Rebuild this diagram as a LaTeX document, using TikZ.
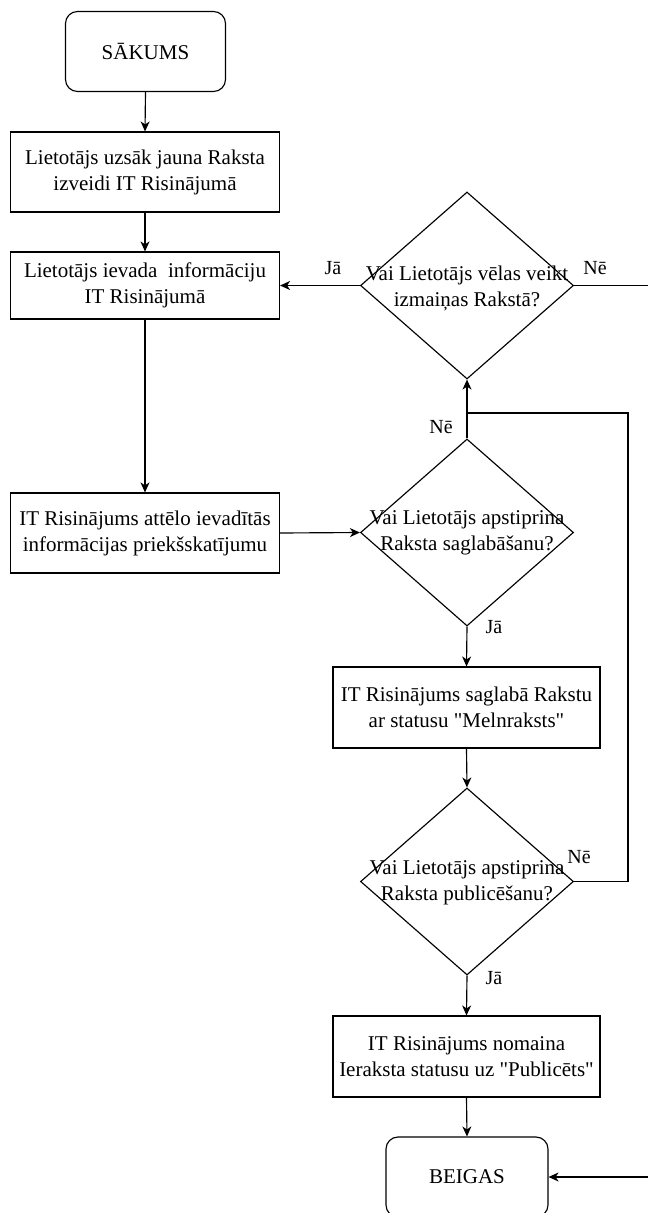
\documentclass[tikz,border=0pt]{standalone}
\usepackage{fontspec}
\setmainfont{Liberation Serif}[Ligatures=TeXOff]
\usetikzlibrary{arrows.meta,shapes.geometric}
\begin{document}
\begin{tikzpicture}[x=1pt,y=-1pt,
  font=\fontsize{21}{26}\selectfont,
  line width=1.15pt,
  procbox/.style={draw, rectangle, align=center, inner sep=0pt, minimum width=269pt, minimum height=80pt},
  termbox/.style={draw, rectangle, rounded corners=12pt, align=center, inner sep=0pt, minimum width=160pt, minimum height=80pt},
  decbox/.style={draw, diamond, inner sep=0pt, minimum width=213pt, minimum height=187pt},
  dectext/.style={align=center, inner sep=0pt},
  lbl/.style={font=\fontsize{20}{22}\selectfont, inner sep=0pt},
  arr/.style={-{Stealth[length=10pt,width=9pt,inset=3pt]}}
]
\useasboundingbox (0,0) rectangle (648,1213);
\clip (0,0) rectangle (648,1213);

\node[termbox] (start) at (145.5,51.5) {SĀKUMS};
\node[procbox] (b1) at (145,172) {Lietotājs uzsāk jauna Raksta\\izveidi IT Risinājumā};
\node[procbox, minimum height=67pt] (b2) at (145,285.5) {Lietotājs ievada\ \ informāciju\\IT Risinājumā};
\node[procbox] (b3) at (145,533) {IT Risinājums attēlo ievadītās\\informācijas priekšskatījumu};

\node[decbox] (d1) at (467,285.5) {};
\node[dectext] (t1) at (467,288) {Vai Lietotājs vēlas veikt\\izmaiņas Rakstā?};
\node[decbox] (d2) at (467,532.5) {};
\node[dectext] (t2) at (467,533) {Vai Lietotājs apstiprina\\Raksta saglabāšanu?};
\node[procbox, minimum width=267pt, minimum height=81pt] (b4) at (466.5,707.5) {IT Risinājums saglabā Rakstu\\ar statusu "Melnraksts"};
\node[decbox] (d3) at (467,881.5) {};
\node[dectext] (t3) at (467,883) {Vai Lietotājs apstiprina\\Raksta publicēšanu?};
\node[procbox, minimum width=267pt, minimum height=81pt] (b5) at (466.5,1056.5) {IT Risinājums nomaina\\Ieraksta statusu uz "Publicēts"};
\node[termbox, minimum width=162pt] (end) at (467,1177) {BEIGAS};

\coordinate (rr) at (690,0);
\coordinate (rc) at (628,413);
\coordinate (jn) at (467,413);

\draw[arr] (start.south) -- (b1.north);
\draw[arr] (b1.south) -- (b2.north);
\draw[arr] (b2.south) -- (b3.north);
\draw[arr] (b3.east) -- (d2.west);
\draw[arr] (d1.west) -- (b2.east);
\draw[arr] (d1.east) -- (d1.east -| rr) |- (end.east);
\draw[arr] (d2.north) -- (d1.south);
\draw (d3.east) -| (rc) -- (jn);
\draw[arr] (d2.south) -- (b4.north);
\draw[arr] (b4.south) -- (d3.north);
\draw[arr] (d3.south) -- (b5.north);
\draw[arr] (b5.south) -- (end.north);

\node[lbl] (l1) at (333,268) {Jā};
\node[lbl] (l2) at (595,268) {Nē};
\node[lbl] (l3) at (441,427) {Nē};
\node[lbl] (l4) at (494,627) {Jā};
\node[lbl] (l5) at (579,857) {Nē};
\node[lbl] (l6) at (494,978) {Jā};
\end{tikzpicture}
\end{document}
